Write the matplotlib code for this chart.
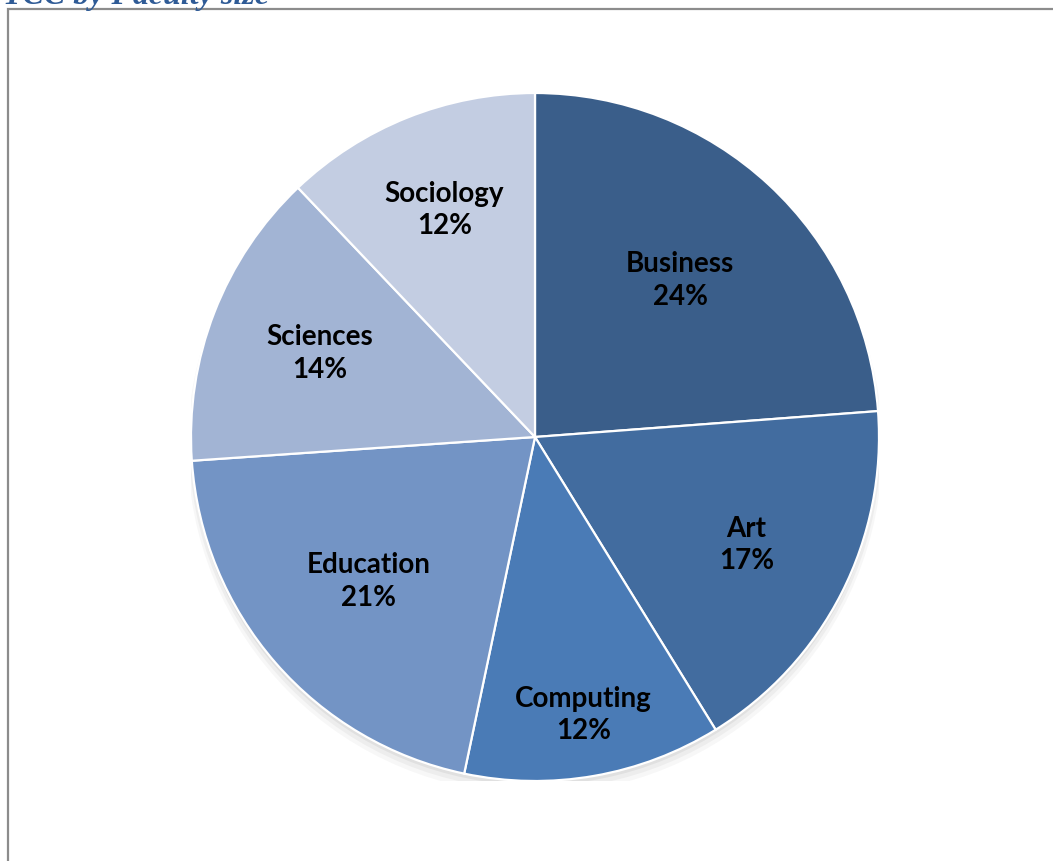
import matplotlib.pyplot as plt
import numpy as np
from matplotlib.patches import Rectangle, Ellipse

# faculty shares (percent), clockwise from 12 o'clock
faculties = ["Business", "Art", "Computing", "Education", "Sciences", "Sociology"]
shares = [23.8, 17.4, 12.1, 20.6, 14.0, 12.1]
pct_labels = ["24%", "17%", "12%", "21%", "14%", "12%"]

colors = ["#3a5e8a", "#426c9f", "#4a7bb6", "#7394c5", "#a2b4d4", "#c3cde2"]
label_r = [0.62, 0.69, 0.82, 0.64, 0.67, 0.71]

W, H = 1053, 861
fig = plt.figure(figsize=(W / 100, H / 100), dpi=100)

# outer frame, runs off the right and bottom edge
fig.patches.append(Rectangle((8 / W, -0.1), 1.2, 1 - 9 / H + 0.1, transform=fig.transFigure,
                             fill=False, edgecolor="#8c8c8c", linewidth=1.6))

fig.text(3 / W, 1 - 4 / H, "TCC by Faculty size", fontsize=23, family="Liberation Serif",
         style="italic", weight="bold", color="#2f5b96", va="baseline", ha="left")

cx, cy, r = 535, 861 - 437, 344
ax = fig.add_axes([(cx - r) / W, (cy - r) / H, 2 * r / W, 2 * r / H])

# soft shadow under the pie
for i, a in enumerate([0.05, 0.04, 0.03]):
    ax.add_patch(Ellipse((0, -0.012 - 0.008 * i), 2.0 + 0.01 * i, 2.0 + 0.01 * i,
                         color="black", alpha=a, lw=0, zorder=0))

wedges, _ = ax.pie(shares, colors=colors, startangle=90, counterclock=False,
                   wedgeprops=dict(edgecolor="white", linewidth=1.6))

for w, name, pl, lr in zip(wedges, faculties, pct_labels, label_r):
    mid = np.deg2rad((w.theta1 + w.theta2) / 2)
    ax.text(lr * np.cos(mid), lr * np.sin(mid), name + "\n" + pl, ha="center", va="center",
            fontsize=20, family="Lato", weight="bold", linespacing=1.3)

ax.set_xlim(-1, 1)
ax.set_ylim(-1, 1)
ax.axis("off")

fig.savefig("out.png", dpi=100)
